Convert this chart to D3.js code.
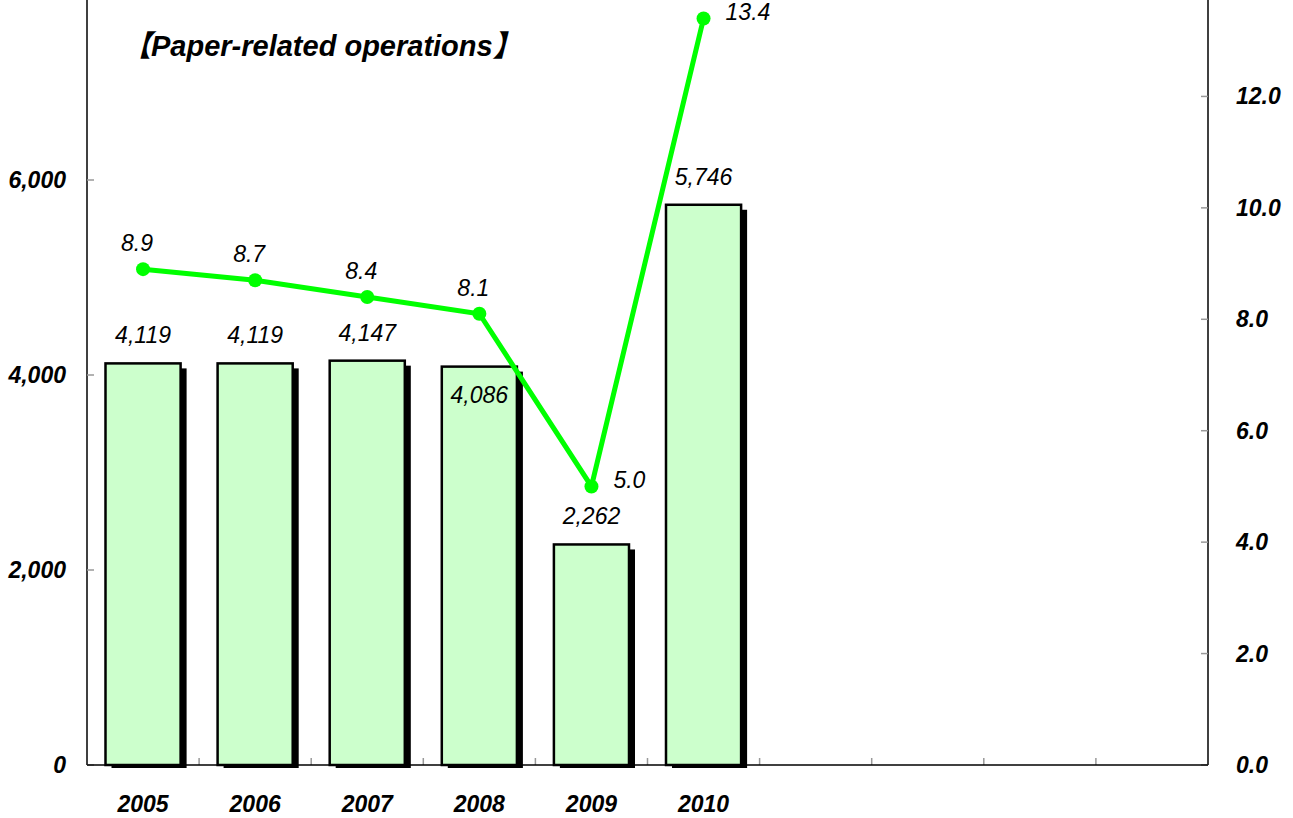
<!DOCTYPE html>
<html>
<head>
<meta charset="utf-8">
<script src="https://cdn.jsdelivr.net/npm/d3@7"></script>
<style>
  html, body { margin: 0; padding: 0; background: #fff; }
  svg { display: block; font-family: "Liberation Sans", Arial, "Noto Sans CJK JP", sans-serif; }
</style>
</head>
<body>
<div id="chart"></div>
<script>
// Paper-related operations: bars (left axis) + green line (right axis)
const years = ['2005', '2006', '2007', '2008', '2009', '2010'];
const barValues = [4119, 4119, 4147, 4086, 2262, 5746];
const lineValues = [8.9, 8.7, 8.4, 8.1, 5.0, 13.4];
const leftTicks = [0, 2000, 4000, 6000];
const rightTicks = [0, 2, 4, 6, 8, 10, 12];
const slotCount = 10;   // axis has room for 10 years, only 6 filled
const title = '【Paper-related operations】';

const W = 1293, H = 818;
const M = { top: -15, right: 85, bottom: 53, left: 87 };
const x0 = M.left, x1 = W - M.right, yBase = H - M.bottom;

const svg = d3.select('#chart').append('svg').attr('width', W).attr('height', H);

const x = d3.scaleBand().domain(d3.range(slotCount)).range([x0, x1])
  .paddingInner(0.33).paddingOuter(0.165);
const step = x.step();
const yL = d3.scaleLinear().domain([0, 8000]).range([yBase, M.top]);
const yR = d3.scaleLinear().domain([0, 14]).range([yBase, M.top]);

const fmtInt = d3.format(',');
const fmt1 = d3.format('.1f');

// axes frame
const ax = svg.append('g');
ax.append('line').attr('x1', x0).attr('x2', x0).attr('y1', 0).attr('y2', yBase)
  .attr('stroke', '#000').attr('stroke-width', 1.5);
ax.append('line').attr('x1', x1).attr('x2', x1).attr('y1', 0).attr('y2', yBase)
  .attr('stroke', '#000').attr('stroke-width', 1.5);

// left ticks
leftTicks.forEach(t => {
  ax.append('line').attr('x1', x0).attr('x2', x0 + 7).attr('y1', yL(t)).attr('y2', yL(t))
    .attr('stroke', '#999').attr('stroke-width', 1.5);
  ax.append('text').attr('x', 66).attr('y', yL(t) + 8).attr('text-anchor', 'end')
    .attr('font-size', 23).attr('font-weight', 'bold').attr('font-style', 'italic')
    .text(fmtInt(t));
});
// right ticks
rightTicks.forEach(t => {
  ax.append('line').attr('x1', x1 - 7).attr('x2', x1).attr('y1', yR(t)).attr('y2', yR(t))
    .attr('stroke', '#999').attr('stroke-width', 1.5);
  ax.append('text').attr('x', 1236).attr('y', yR(t) + 8).attr('text-anchor', 'start')
    .attr('font-size', 23).attr('font-weight', 'bold').attr('font-style', 'italic')
    .text(fmt1(t));
});
// bottom ticks at slot boundaries
d3.range(1, slotCount).forEach(i => {
  const xx = x0 + step * i;
  ax.append('line').attr('x1', xx).attr('x2', xx).attr('y1', yBase - 7).attr('y2', yBase)
    .attr('stroke', '#999').attr('stroke-width', 1.5);
});

// bars with drop shadow
const bars = svg.append('g');
years.forEach((yr, i) => {
  bars.append('rect').attr('x', x(i) + 6).attr('y', yL(barValues[i]) + 5)
    .attr('width', x.bandwidth()).attr('height', yBase - yL(barValues[i]) - 2)
    .attr('fill', '#000');
});
ax.append('line').attr('x1', x0).attr('x2', x1).attr('y1', yBase).attr('y2', yBase)
  .attr('stroke', '#000').attr('stroke-width', 1.5);
years.forEach((yr, i) => {
  bars.append('rect').attr('x', x(i)).attr('y', yL(barValues[i]))
    .attr('width', x.bandwidth()).attr('height', yBase - yL(barValues[i]))
    .attr('fill', '#ccffcc').attr('stroke', '#000').attr('stroke-width', 2.5);
});

// bar labels (2008 sits inside its bar, under the line)
years.forEach((yr, i) => {
  const inside = i === 3;
  svg.append('text')
    .attr('x', x(i) + x.bandwidth() / 2)
    .attr('y', inside ? yL(barValues[i]) + 36 : yL(barValues[i]) - 20)
    .attr('text-anchor', 'middle').attr('font-size', 23).attr('font-style', 'italic')
    .text(fmtInt(barValues[i]));
});

// category labels
years.forEach((yr, i) => {
  svg.append('text').attr('x', x(i) + x.bandwidth() / 2).attr('y', 812)
    .attr('text-anchor', 'middle').attr('font-size', 23).attr('font-weight', 'bold')
    .attr('font-style', 'italic').text(yr);
});

// line series
const cx = i => x(i) + x.bandwidth() / 2;
svg.append('path').datum(lineValues)
  .attr('d', d3.line().x((d, i) => cx(i)).y(d => yR(d)))
  .attr('fill', 'none').attr('stroke', '#00ff00').attr('stroke-width', 5);
svg.append('g').selectAll('circle').data(lineValues).join('circle')
  .attr('cx', (d, i) => cx(i)).attr('cy', d => yR(d)).attr('r', 7).attr('fill', '#00ff00');

// line labels: above for the flat part, to the right for the last two
svg.append('g').selectAll('text').data(lineValues).join('text')
  .attr('x', (d, i) => i >= 4 ? cx(i) + 22 : cx(i) - 6)
  .attr('y', (d, i) => i >= 4 ? yR(d) + 2 : yR(d) - 18)
  .attr('text-anchor', (d, i) => i >= 4 ? 'start' : 'middle')
  .attr('font-size', 23).attr('font-style', 'italic')
  .text(d => fmt1(d));

// title
svg.append('text').attr('x', 122).attr('y', 56).attr('font-size', 29)
  .attr('font-weight', 'bold').attr('font-style', 'italic').text(title);
</script>
</body>
</html>
